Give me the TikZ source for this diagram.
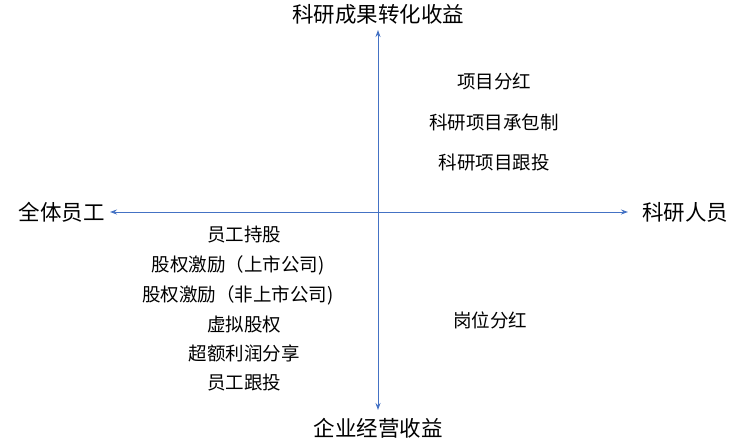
\documentclass[tikz,border=0pt]{standalone}
\usepackage{fontspec}
\setmainfont{Noto Sans CJK SC}
\usetikzlibrary{arrows.meta}
\definecolor{axisblue}{HTML}{4472C4}
\tikzset{
  axis/.style={draw=axisblue, line width=0.9pt, {Stealth[length=7pt,width=5pt]}-{Stealth[length=7pt,width=5pt]}},
  biglabel/.style={font=\fontsize{21.5}{24}\selectfont, inner sep=0pt, text=black},
  item/.style={font=\fontsize{18.5}{22}\selectfont, inner sep=0pt, text=black}
}
\begin{document}
\begin{tikzpicture}[x=1pt,y=-1pt]
\useasboundingbox (0,0) rectangle (740,445);
\coordinate (top) at (378,30);
\coordinate (bottom) at (378,410);
\coordinate (left) at (110,212);
\coordinate (right) at (628,212);
\draw[axis] (bottom) -- (top);
\draw[axis] (left) -- (right);
\node[biglabel] (ty) at (378,14) {科研成果转化收益};
\node[biglabel] (by) at (378,428) {企业经营收益};
\node[biglabel] (lx) at (62,212) {全体员工};
\node[biglabel] (rx) at (685,212) {科研人员};
\node[item] (r1) at (494,81) {项目分红};
\node[item] (r2) at (494,122) {科研项目承包制};
\node[item] (r3) at (494,162) {科研项目跟投};
\node[item] (r4) at (490,320) {岗位分红};
\node[item] (l1) at (244,235) {员工持股};
\node[item] (l2) at (238,265) {股权激励（上市公司)};
\node[item] (l3) at (238,295) {股权激励（非上市公司)};
\node[item] (l4) at (244,325) {虚拟股权};
\node[item] (l5) at (244,353) {超额利润分享};
\node[item] (l6) at (244,383) {员工跟投};
\end{tikzpicture}
\end{document}
